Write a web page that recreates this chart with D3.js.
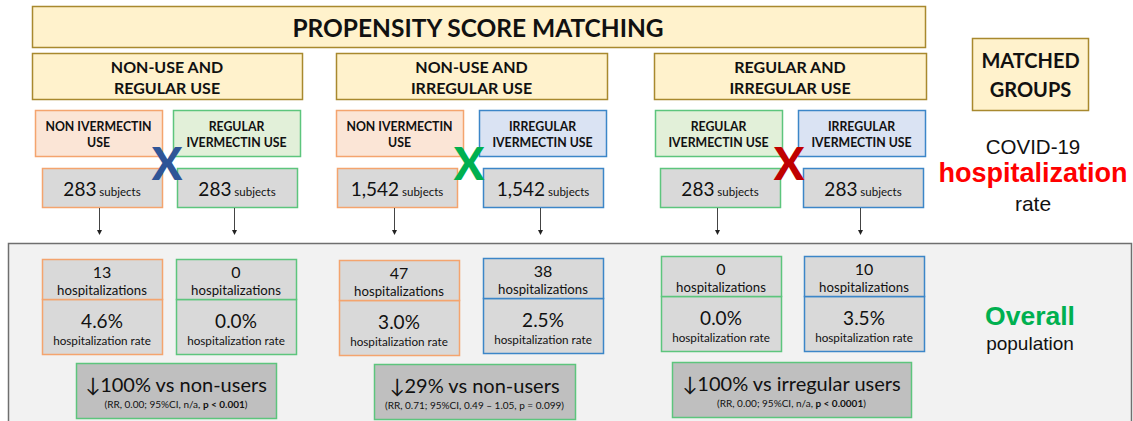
<!DOCTYPE html>
<html><head><meta charset="utf-8">
<script src="https://cdn.jsdelivr.net/npm/d3@7"></script>
<style>html,body{margin:0;padding:0;background:#fff;}svg{display:block;}</style>
</head><body>
<script>
// ---------- data ----------
const title = "PROPENSITY SCORE MATCHING";
const sections = [["NON-USE AND","REGULAR USE"],["NON-USE AND","IRREGULAR USE"],["REGULAR AND","IRREGULAR USE"]];
const groupLabels = [["NON IVERMECTIN","USE"],["REGULAR","IVERMECTIN USE"],["NON IVERMECTIN","USE"],["IRREGULAR","IVERMECTIN USE"],["REGULAR","IVERMECTIN USE"],["IRREGULAR","IVERMECTIN USE"]];
const groupTypes = ["non","regular","non","irregular","regular","irregular"];
const subjects = [283,283,1542,1542,283,283];
const hospitalizations = [13,0,47,38,0,10];
const rates = [4.6,0.0,3.0,2.5,0.0,3.5];
const reductions = ["\u2193100% vs non-users","\u219329% vs non-users","\u2193100% vs irregular users"];
const statsPlain = ["(RR, 0.00; 95%CI, n/a, ","(RR, 0.71; 95%CI, 0.49 \u2013 1.05, p = 0.099)","(RR, 0.00; 95%CI, n/a, "];
const statsBold = ["p  < 0.001","","p < 0.0001"];
const statsTail = [")","",")"];
const matchMarkers = ["X","X","X"];
const sideTop = ["MATCHED","GROUPS"];
const sideOutcome = ["COVID-19","hospitalization","rate"];
const sidePop = ["Overall","population"];

// ---------- styles ----------
const W = 1133, H = 421;
const calib = "Lato, 'Open Sans', sans-serif";
const helv = "'Liberation Sans', Arial, sans-serif";
const typeFill = d3.scaleOrdinal().domain(["non","regular","irregular"]).range(["#FBE5D6","#E2F0D9","#DAE3F3"]);
const typeStroke = d3.scaleOrdinal().domain(["non","regular","irregular"]).range(["#F4A46E","#5DC57D","#3C86C8"]);
const markColor = d3.scaleOrdinal().domain([0,1,2]).range(["#2F5597","#00B050","#C00000"]);

// ---------- layout scales ----------
const idx6 = d3.range(6), idx3 = d3.range(3);
const secX = d3.scaleOrdinal().domain(idx3).range([32,336,654]);
const secW = d3.scaleOrdinal().domain(idx3).range([270,271,272]);
const lblX = d3.scaleOrdinal().domain(idx6).range([35,173,336,479,655,798]);
const subX = d3.scaleOrdinal().domain(idx6).range([42,177,337,483,660,803]);
const botX = d3.scaleOrdinal().domain(idx6).range([42,176,339,483,661,804]);
const botY = d3.scaleOrdinal().domain(idx6).range([259,259,260,258,256,256]);
const sumX = d3.scaleOrdinal().domain(idx3).range([76,374,672]);
const sumW = d3.scaleOrdinal().domain(idx3).range([200,201,239]);
const sumY = d3.scaleOrdinal().domain(idx3).range([363,364,362]);
const markX = d3.scaleOrdinal().domain(idx3).range([167,469,789]);
const fmtN = d3.format(",");
const fmtR = d3.format(".1f");

const svg = d3.select("body").append("svg").attr("width",W).attr("height",H);

// title
svg.append("rect").attr("x",32.5).attr("y",6.5).attr("width",893).attr("height",41)
  .attr("fill","#FFF2CC").attr("stroke","#A8892E").attr("stroke-width",1.5);
svg.append("text").attr("x",478).attr("y",37).attr("text-anchor","middle")
  .attr("font-family",calib).attr("font-weight",700).attr("font-size",24.5).attr("fill","#111").text(title);

// section headers
const sec = svg.selectAll("g.sec").data(sections).join("g").attr("class","sec");
sec.append("rect").attr("x",(d,i)=>secX(i)+0.5).attr("y",53.5).attr("width",(d,i)=>secW(i)).attr("height",46)
  .attr("fill","#FFF2CC").attr("stroke","#A8892E").attr("stroke-width",1.5);
sec.each(function(d,i){
  d3.select(this).selectAll("text").data(d).join("text")
    .attr("x",secX(i)+secW(i)/2).attr("y",(t,j)=>73+j*21).attr("text-anchor","middle")
    .attr("font-family",calib).attr("font-weight",700).attr("font-size",16).attr("fill","#111").text(t=>t);
});

// group label boxes
const gl = svg.selectAll("g.gl").data(groupLabels).join("g").attr("class","gl");
gl.append("rect").attr("x",(d,i)=>lblX(i)+0.5).attr("y",110.5).attr("width",127).attr("height",46)
  .attr("fill",(d,i)=>typeFill(groupTypes[i])).attr("stroke",(d,i)=>typeStroke(groupTypes[i])).attr("stroke-width",1.5);
gl.each(function(d,i){
  d3.select(this).selectAll("text").data(d).join("text")
    .attr("x",lblX(i)+63.5).attr("y",(t,j)=>131+j*16).attr("text-anchor","middle")
    .attr("font-family",calib).attr("font-weight",700).attr("font-size",12.3).attr("fill","#111").text(t=>t);
});

// subject boxes
const sb = svg.selectAll("g.sb").data(subjects).join("g").attr("class","sb");
sb.append("rect").attr("x",(d,i)=>subX(i)+0.5).attr("y",168.5).attr("width",120).attr("height",39)
  .attr("fill","#D9D9D9").attr("stroke",(d,i)=>typeStroke(groupTypes[i])).attr("stroke-width",1.5);
const sbt = sb.append("text").attr("x",(d,i)=>subX(i)+60).attr("y",196).attr("text-anchor","middle")
  .attr("font-family",calib).attr("fill","#111");
sbt.append("tspan").attr("font-size",19).text(d=>fmtN(d));
sbt.append("tspan").attr("font-size",11.5).text(" subjects");

// arrows
const arr = svg.append("g");
arr.selectAll("line").data(subjects).join("line")
  .attr("x1",(d,i)=>subX(i)+57.5).attr("x2",(d,i)=>subX(i)+57.5).attr("y1",208).attr("y2",231)
  .attr("stroke","#444").attr("stroke-width",1);
arr.selectAll("path").data(subjects).join("path")
  .attr("d",(d,i)=>{const x=subX(i)+57.5;return `M${x-2.5},230L${x+2.5},230L${x},235Z`;}).attr("fill","#222");

// match markers
svg.selectAll("text.mark").data(matchMarkers).join("text").attr("class","mark")
  .attr("x",(d,i)=>markX(i)).attr("y",180).attr("text-anchor","middle")
  .attr("font-family",calib).attr("font-weight",900).attr("font-size",45)
  .attr("fill",(d,i)=>markColor(i)).text(d=>d);

// bottom panel
svg.append("rect").attr("x",8.5).attr("y",243.5).attr("width",1123).attr("height",200)
  .attr("fill","#F2F2F2").attr("stroke","#6F6F6F").attr("stroke-width",1.5);

// hospitalization boxes
const hb = svg.selectAll("g.hb").data(hospitalizations).join("g").attr("class","hb");
hb.append("rect").attr("x",(d,i)=>botX(i)+0.5).attr("y",(d,i)=>botY(i)+40.5).attr("width",120).attr("height",55)
  .attr("fill","#D9D9D9").attr("stroke",(d,i)=>typeStroke(groupTypes[i])).attr("stroke-width",1.5);
hb.append("rect").attr("x",(d,i)=>botX(i)+0.5).attr("y",(d,i)=>botY(i)+0.5).attr("width",120).attr("height",40)
  .attr("fill","#D9D9D9").attr("stroke",(d,i)=>typeStroke(groupTypes[i])).attr("stroke-width",1.5);
hb.append("text").attr("x",(d,i)=>botX(i)+60).attr("y",(d,i)=>botY(i)+19).attr("text-anchor","middle")
  .attr("font-family",calib).attr("font-size",16).attr("fill","#111").text(d=>d);
hb.append("text").attr("x",(d,i)=>botX(i)+60).attr("y",(d,i)=>botY(i)+36).attr("text-anchor","middle")
  .attr("font-family",calib).attr("font-size",13.2).attr("fill","#111").text("hospitalizations");
hb.append("text").attr("x",(d,i)=>botX(i)+60).attr("y",(d,i)=>botY(i)+69).attr("text-anchor","middle")
  .attr("font-family",calib).attr("font-size",19).attr("fill","#111").text((d,i)=>fmtR(rates[i])+"%");
hb.append("text").attr("x",(d,i)=>botX(i)+60).attr("y",(d,i)=>botY(i)+86).attr("text-anchor","middle")
  .attr("font-family",calib).attr("font-size",11.7).attr("fill","#111").text("hospitalization rate");

// summary boxes
const sm = svg.selectAll("g.sm").data(reductions).join("g").attr("class","sm");
sm.append("rect").attr("x",(d,i)=>sumX(i)+0.5).attr("y",(d,i)=>sumY(i)+0.5).attr("width",(d,i)=>sumW(i)).attr("height",55)
  .attr("fill","#BFBFBF").attr("stroke","#5DC57D").attr("stroke-width",1.5);
sm.append("text").attr("x",(d,i)=>sumX(i)+sumW(i)/2).attr("y",(d,i)=>sumY(i)+29).attr("text-anchor","middle")
  .attr("font-family",calib).attr("font-size",20).attr("fill","#111").text(d=>d);
const st = sm.append("text").attr("x",(d,i)=>sumX(i)+sumW(i)/2).attr("y",(d,i)=>sumY(i)+45).attr("text-anchor","middle")
  .attr("font-family",calib).attr("font-size",10).attr("fill","#111");
st.append("tspan").text((d,i)=>statsPlain[i]);
st.append("tspan").attr("font-weight",700).text((d,i)=>statsBold[i]);
st.append("tspan").text((d,i)=>statsTail[i]);

// right side
svg.append("rect").attr("x",972.5).attr("y",38.5).attr("width",116).attr("height",72)
  .attr("fill","#FFF2CC").attr("stroke","#A8892E").attr("stroke-width",1.5);
svg.selectAll("text.side").data(sideTop).join("text").attr("class","side")
  .attr("x",1030.5).attr("y",(d,i)=>68+i*29).attr("text-anchor","middle")
  .attr("font-family",calib).attr("font-weight",700).attr("font-size",20).attr("fill","#111").text(d=>d);
const outSizes = [20.5,27,21], outY = [154,182,211], outCol = ["#111","#FF0000","#111"], outW = [400,700,400];
svg.selectAll("text.out").data(sideOutcome).join("text").attr("class","out")
  .attr("x",1033).attr("y",(d,i)=>outY[i]).attr("text-anchor","middle")
  .attr("font-family",helv).attr("font-weight",(d,i)=>outW[i]).attr("font-size",(d,i)=>outSizes[i])
  .attr("fill",(d,i)=>outCol[i]).text(d=>d);
const popSizes=[26.5,19], popY=[325,350], popCol=["#00B050","#111"], popW=[700,400];
svg.selectAll("text.pop").data(sidePop).join("text").attr("class","pop")
  .attr("x",1030).attr("y",(d,i)=>popY[i]).attr("text-anchor","middle")
  .attr("font-family",helv).attr("font-weight",(d,i)=>popW[i]).attr("font-size",(d,i)=>popSizes[i])
  .attr("fill",(d,i)=>popCol[i]).text(d=>d);
</script>
</body></html>
